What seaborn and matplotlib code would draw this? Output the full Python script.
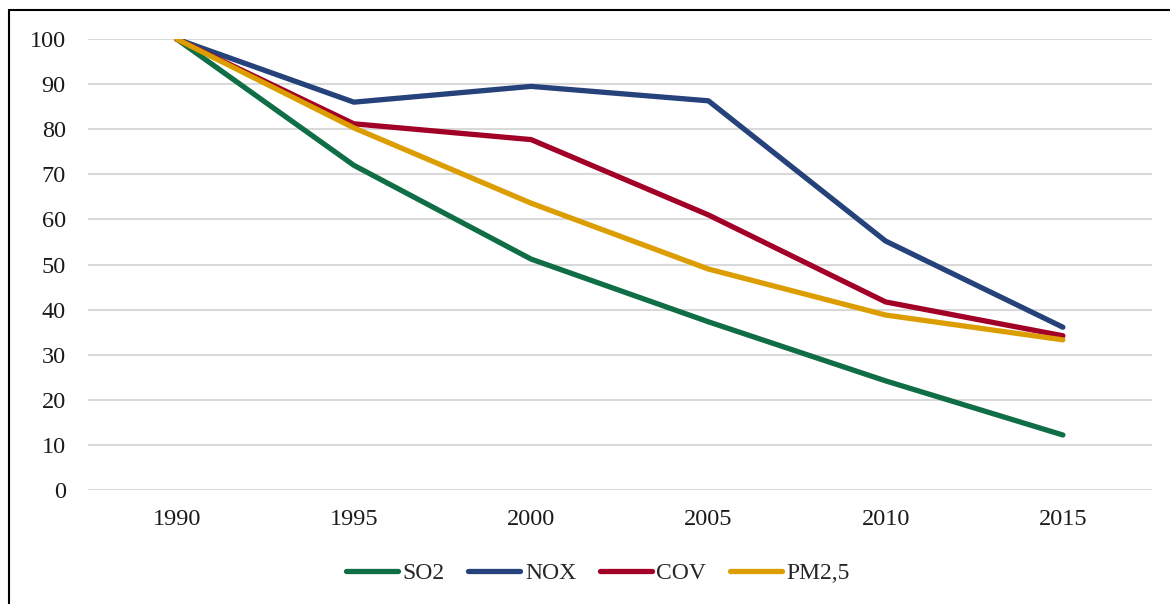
import pandas as pd
import matplotlib.pyplot as plt
import seaborn as sns
from matplotlib.lines import Line2D

years = ["1990", "1995", "2000", "2005", "2010", "2015"]
so2 = [100, 72, 51.2, 37.3, 24.2, 12.2]
nox = [100, 86, 89.5, 86.3, 55.2, 36.1]
cov = [100, 81.2, 77.7, 61, 41.7, 34.2]
pm25 = [100, 80.3, 63.6, 49, 38.8, 33.3]

series = ["SO2", "NOX", "COV", "PM2,5"]
colors = ["#0F6E45", "#25427A", "#A20026", "#DC9D00"]

data = pd.DataFrame({
    "year": years * 4,
    "value": so2 + nox + cov + pm25,
    "serie": [s for s in series for _ in years],
})

sns.set_theme(style="white")
plt.rcParams['font.family'] = ['Liberation Serif', 'DejaVu Serif']

fig = plt.figure(figsize=(11.7, 6.04), dpi=100)
ax = fig.add_axes([0.0752, 0.1887, 0.909, 0.7467])

sns.lineplot(data=data, x="year", y="value", hue="serie", palette=colors,
             sort=False, linewidth=3.8, ax=ax, legend=False)
for line in ax.get_lines():
    line.set_solid_capstyle("round")
    line.set_solid_joinstyle("round")

ax.set_xlim(-0.5, 5.5)
ax.set_ylim(0, 100)
ax.set_yticks(range(0, 101, 10))
ax.yaxis.grid(True, color="#D9D9D9", linewidth=1.5)
ax.set_axisbelow(True)
for s in ax.spines.values():
    s.set_visible(False)
ax.tick_params(axis="y", length=0, pad=16, labelsize=17.5, colors="#1a1a1a")
ax.tick_params(axis="x", length=0, pad=14, labelsize=17.5, colors="#1a1a1a")
ax.set_xlabel("")
ax.set_ylabel("")

handles = [Line2D([0], [0], color=c, linewidth=3.8, solid_capstyle="round") for c in colors]
fig.legend(handles, series, loc="center", bbox_to_anchor=(0.511, 1 - 573 / 604),
           ncol=4, frameon=False, fontsize=17, handlelength=2.2,
           handletextpad=0.2, columnspacing=1.0)

# border
fig.add_artist(Line2D([9 / 1170, 9 / 1170], [0, 1 - 10 / 604], color="black",
                      linewidth=1.5, transform=fig.transFigure))
fig.add_artist(Line2D([9 / 1170, 1], [1 - 10 / 604, 1 - 10 / 604], color="black",
                      linewidth=1.5, transform=fig.transFigure))

plt.savefig("out.png", dpi=100)
